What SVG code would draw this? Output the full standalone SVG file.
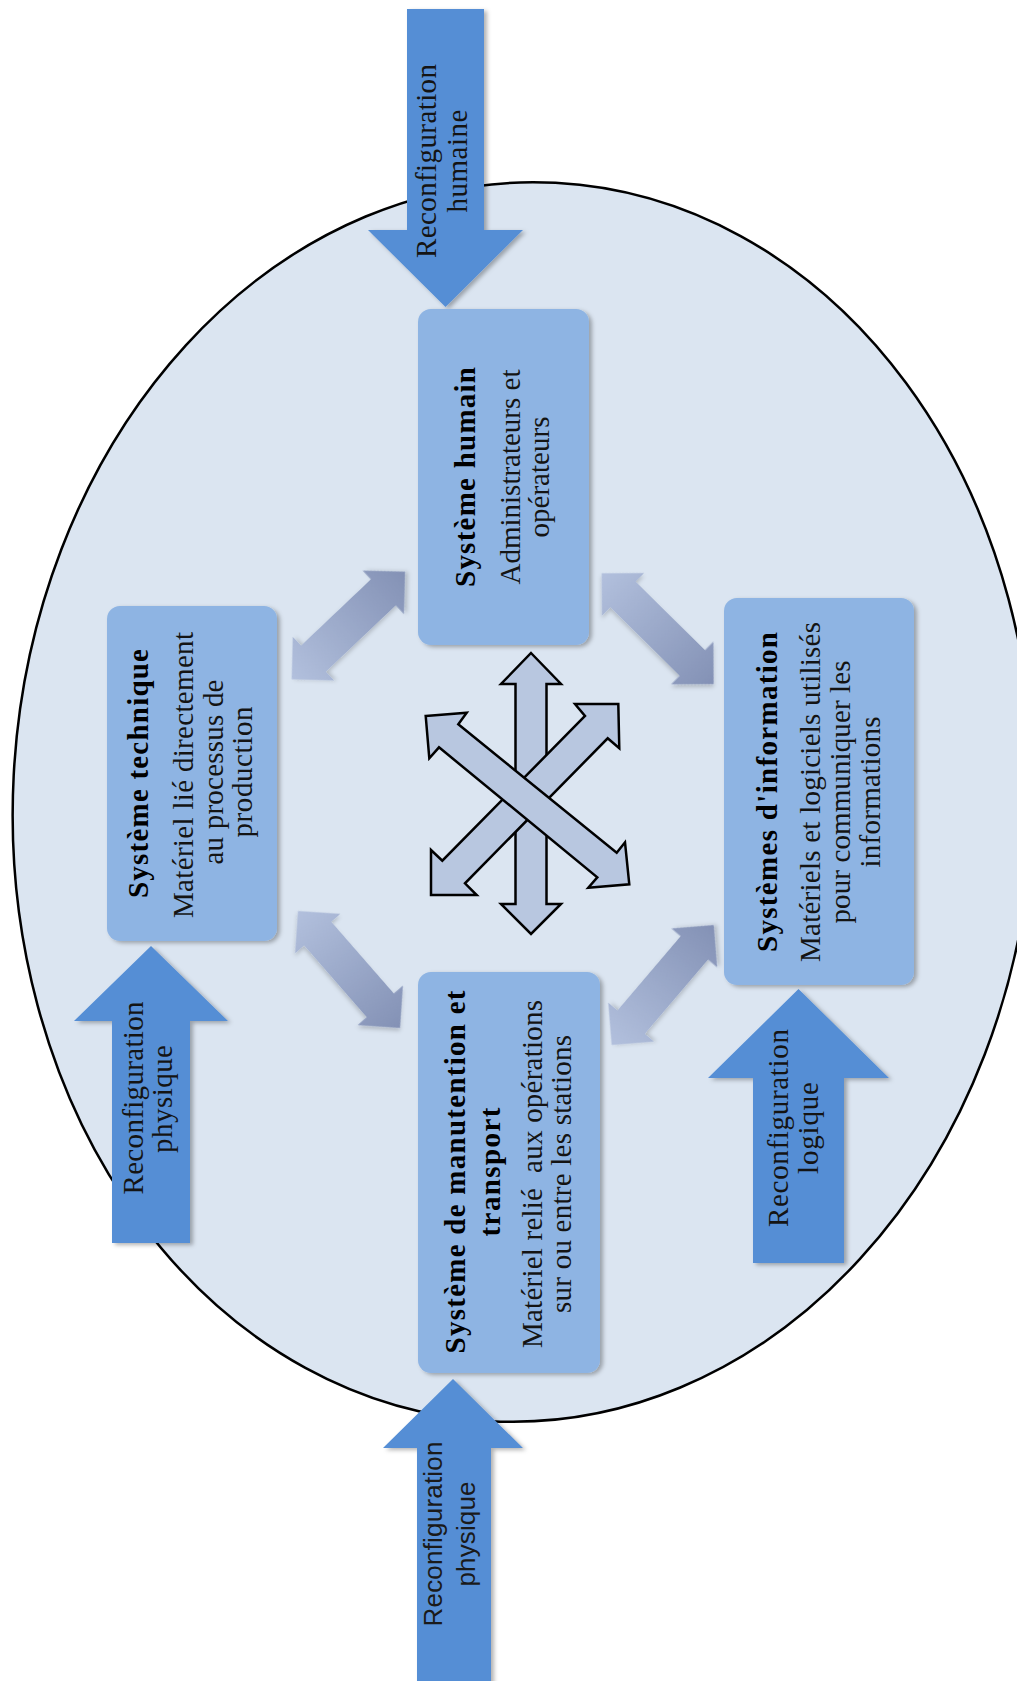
<svg xmlns="http://www.w3.org/2000/svg" width="1017" height="1681" viewBox="0 0 1017 1681">
<defs>
<style>
.box{fill:#8EB4E3;filter:url(#sh);}
.big{fill:#558ED5;filter:url(#sh);}
.t{font-family:"Liberation Serif","Times New Roman",serif;font-size:29px;fill:#141414;text-anchor:middle;}
.tb{font-weight:bold;fill:#000;}
.ts{font-family:"Liberation Sans",Arial,sans-serif;font-size:26px;fill:#1a1a1a;text-anchor:middle;}
.cx{fill:#B8C7E0;stroke:#000;stroke-width:2.5;stroke-linejoin:miter;}
.conn{fill:url(#cg);filter:url(#sh2);}
</style>
<linearGradient id="cg" x1="0" y1="0" x2="1" y2="0">
<stop offset="0" stop-color="#B2C0DD"/>
<stop offset="1" stop-color="#8391B5"/>
</linearGradient>
<filter id="sh" x="-10%" y="-10%" width="130%" height="130%">
<feDropShadow dx="3" dy="2" stdDeviation="2" flood-color="#000" flood-opacity="0.3"/>
</filter>
<filter id="sh2" x="-20%" y="-40%" width="140%" height="180%">
<feDropShadow dx="2" dy="2" stdDeviation="2" flood-color="#000" flood-opacity="0.2"/>
</filter>
</defs>
<rect x="0" y="0" width="1017" height="1681" fill="#FFFFFF"/>

<g id="enveloppe">
<ellipse cx="523" cy="802" rx="510" ry="620" transform="rotate(3 523 802)" fill="#DBE5F1" stroke="#000" stroke-width="2.5"/>
</g>

<g id="connectors">
<g transform="translate(291.7,679.3) rotate(-43.5)"><polygon class="conn" points="0,0 30,-30 30,-18 126.3,-18 126.3,-30 156.3,0 126.3,30 126.3,18 30,18 30,30"/></g>
<g transform="translate(601.7,573.3) rotate(44.7)"><polygon class="conn" points="0,0 30,-30 30,-18 127.5,-18 127.5,-30 157.5,0 127.5,30 127.5,18 30,18 30,30"/></g>
<g transform="translate(298,911) rotate(48.9)"><polygon class="conn" points="0,0 30,-30 30,-18 125.2,-18 125.2,-30 155.2,0 125.2,30 125.2,18 30,18 30,30"/></g>
<g transform="translate(611.7,1045) rotate(-49.6)"><polygon class="conn" points="0,0 30,-30 30,-18 127.5,-18 127.5,-30 157.5,0 127.5,30 127.5,18 30,18 30,30"/></g>
<g id="centre">
<polygon class="cx" points="531,653 561,684 546.5,684 546.5,904 561,904 531,934 501,904 515.5,904 515.5,684 501,684"/>
<polygon class="cx" points="618.3,704 575,704 585,716 442.3,860.7 431,850 431,895 476.7,895 465,883.3 607.7,738.3 619.3,748.3"/>
<polygon class="cx" points="425.7,716 466.7,712.7 458.3,724.3 616.7,852.7 625,842.3 629.3,884.3 588.3,887.7 597.3,877.3 439,747.3 429.3,758.3"/>
</g>
</g>

<g id="reconf-humaine">
<path class="big" d="M407,9 H484 V230 H523 L445.5,307 L368,230 H407 Z"/>
<text class="t" transform="translate(436,161) rotate(-90)" textLength="194" lengthAdjust="spacing">Reconfiguration</text>
<text class="t" transform="translate(467,161) rotate(-90)" textLength="103" lengthAdjust="spacing">humaine</text>
</g>

<g id="reconf-physique-1">
<path class="big" d="M112,1243 V1021 H74 L151,946 L228,1021 H190 V1243 Z"/>
<text class="t" transform="translate(143,1098) rotate(-90)" textLength="193" lengthAdjust="spacing">Reconfiguration</text>
<text class="t" transform="translate(172,1099) rotate(-90)" textLength="108" lengthAdjust="spacing">physique</text>
</g>

<g id="reconf-logique">
<path class="big" d="M753,1263 V1078 H708 L798.5,989 L889,1078 H844 V1263 Z"/>
<text class="t" transform="translate(788,1128) rotate(-90)" textLength="198" lengthAdjust="spacing">Reconfiguration</text>
<text class="t" transform="translate(818,1128) rotate(-90)" textLength="92" lengthAdjust="spacing">logique</text>
</g>

<g id="reconf-physique-2">
<path class="big" d="M417,1690 V1448 H383 L453,1379 L523,1448 H491 V1690 Z"/>
<text class="ts" transform="translate(442,1534) rotate(-90)" textLength="185" lengthAdjust="spacing">Reconfiguration</text>
<text class="ts" transform="translate(475,1534) rotate(-90)" textLength="105" lengthAdjust="spacing">physique</text>
</g>

<g id="systeme-humain">
<rect class="box" x="418" y="309" width="171" height="336" rx="13"/>
<text class="t tb" transform="translate(475,477) rotate(-90)" textLength="220" lengthAdjust="spacing">Système humain</text>
<text class="t" transform="translate(520,477) rotate(-90)" textLength="215" lengthAdjust="spacing">Administrateurs et</text>
<text class="t" transform="translate(549,477) rotate(-90)" textLength="121" lengthAdjust="spacing">opérateurs</text>
</g>

<g id="systeme-technique">
<rect class="box" x="107" y="606" width="170" height="335" rx="13"/>
<text class="t tb" transform="translate(148,773.5) rotate(-90)" textLength="249" lengthAdjust="spacing">Système technique</text>
<text class="t" transform="translate(193,775) rotate(-90)" textLength="286" lengthAdjust="spacing">Matériel lié directement</text>
<text class="t" transform="translate(223,772) rotate(-90)" textLength="185" lengthAdjust="spacing">au processus de</text>
<text class="t" transform="translate(252,772) rotate(-90)" textLength="131" lengthAdjust="spacing">production</text>
</g>

<g id="systemes-information">
<rect class="box" x="724" y="598" width="190" height="387" rx="13"/>
<text class="t tb" transform="translate(777,792) rotate(-90)" textLength="320" lengthAdjust="spacing">Systèmes d'information</text>
<text class="t" transform="translate(820,792) rotate(-90)" textLength="340" lengthAdjust="spacing">Matériels et logiciels utilisés</text>
<text class="t" transform="translate(850,792) rotate(-90)" textLength="263" lengthAdjust="spacing">pour communiquer les</text>
<text class="t" transform="translate(880,792) rotate(-90)" textLength="151" lengthAdjust="spacing">informations</text>
</g>

<g id="systeme-manutention">
<rect class="box" x="418" y="972" width="182" height="401" rx="13"/>
<text class="t tb" transform="translate(465,1172) rotate(-90)" textLength="363" lengthAdjust="spacing">Système de manutention et</text>
<text class="t tb" transform="translate(500,1172) rotate(-90)" textLength="129" lengthAdjust="spacing">transport</text>
<text class="t" transform="translate(542,1174) rotate(-90)" textLength="348" lengthAdjust="spacing" xml:space="preserve">Matériel relié  aux opérations</text>
<text class="t" transform="translate(571,1174) rotate(-90)" textLength="278" lengthAdjust="spacing">sur ou entre les stations</text>
</g>
</svg>
